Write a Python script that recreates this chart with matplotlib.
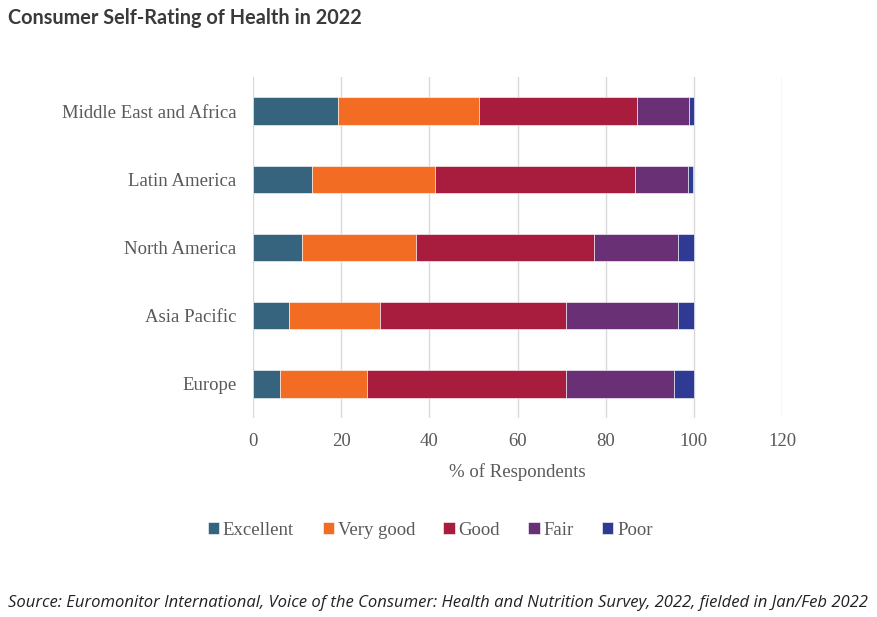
import numpy as np
import matplotlib
matplotlib.use('Agg')
import matplotlib.pyplot as plt

# regions, bottom to top as drawn
regions = ['Europe', 'Asia Pacific', 'North America', 'Latin America', 'Middle East and Africa']
ratings = ['Excellent', 'Very good', 'Good', 'Fair', 'Poor']
excellent = [6.1, 8.2, 11.1, 13.4, 19.3]
very_good = [19.7, 20.7, 25.8, 27.8, 32.0]
good = [45.1, 42.0, 40.4, 45.4, 35.9]
fair = [24.5, 25.4, 19.0, 12.0, 11.7]
poor = [4.6, 3.7, 3.7, 1.2, 1.1]
colors = ['#36637d', '#f36c24', '#a81c3e', '#6a3076', '#2e3a93']

grey = '#595959'
serif = ['Liberation Serif', 'DejaVu Serif']

fig = plt.figure(figsize=(8.78, 6.17), dpi=100)
ax = fig.add_axes([0.2882, 0.3225, 0.6025, 0.5527])

y = np.arange(len(regions))
left = np.zeros(len(regions))
for name, vals, c in zip(ratings, [excellent, very_good, good, fair, poor], colors):
    ax.barh(y, vals, left=left, height=0.4, color=c, label=name,
            edgecolor='white', linewidth=0.4, zorder=3)
    left += np.array(vals)

ax.set_xlim(0, 120)
ax.set_ylim(-0.5, 4.5)
ax.set_xticks(np.arange(0, 121, 20))
ax.set_yticks(y)
ax.set_yticklabels(regions)
ax.grid(axis='x', color='#d9d9d9', linewidth=1, zorder=0)
for s in ax.spines.values():
    s.set_visible(False)
ax.tick_params(length=0, labelsize=13.5, labelcolor=grey)
ax.tick_params(axis='y', pad=12)
ax.tick_params(axis='x', pad=11)
for lab in ax.get_xticklabels() + ax.get_yticklabels():
    lab.set_family(serif)
ax.set_xlabel('% of Respondents', fontsize=13.5, color=grey, family=serif, labelpad=9)

ax.legend(loc='upper center', bbox_to_anchor=(0.335, -0.255), ncol=5, frameon=False,
          prop={'family': serif, 'size': 13.5}, labelcolor=grey,
          handlelength=0.6, handleheight=0.6, handletextpad=0.2, columnspacing=1.52)

fig.text(0.009, 0.971, 'Consumer Self-Rating of Health in 2022', fontsize=14.3,
         fontweight='bold', color='#3a3a3a', family='Lato', va='center')
fig.text(0.009, 0.0227, 'Source: Euromonitor International, Voice of the Consumer: Health and Nutrition Survey, 2022, fielded in Jan/Feb 2022',
         fontsize=12.0, style='italic', color='#222222', family='Open Sans', va='center')

fig.savefig('out.png', dpi=100)
